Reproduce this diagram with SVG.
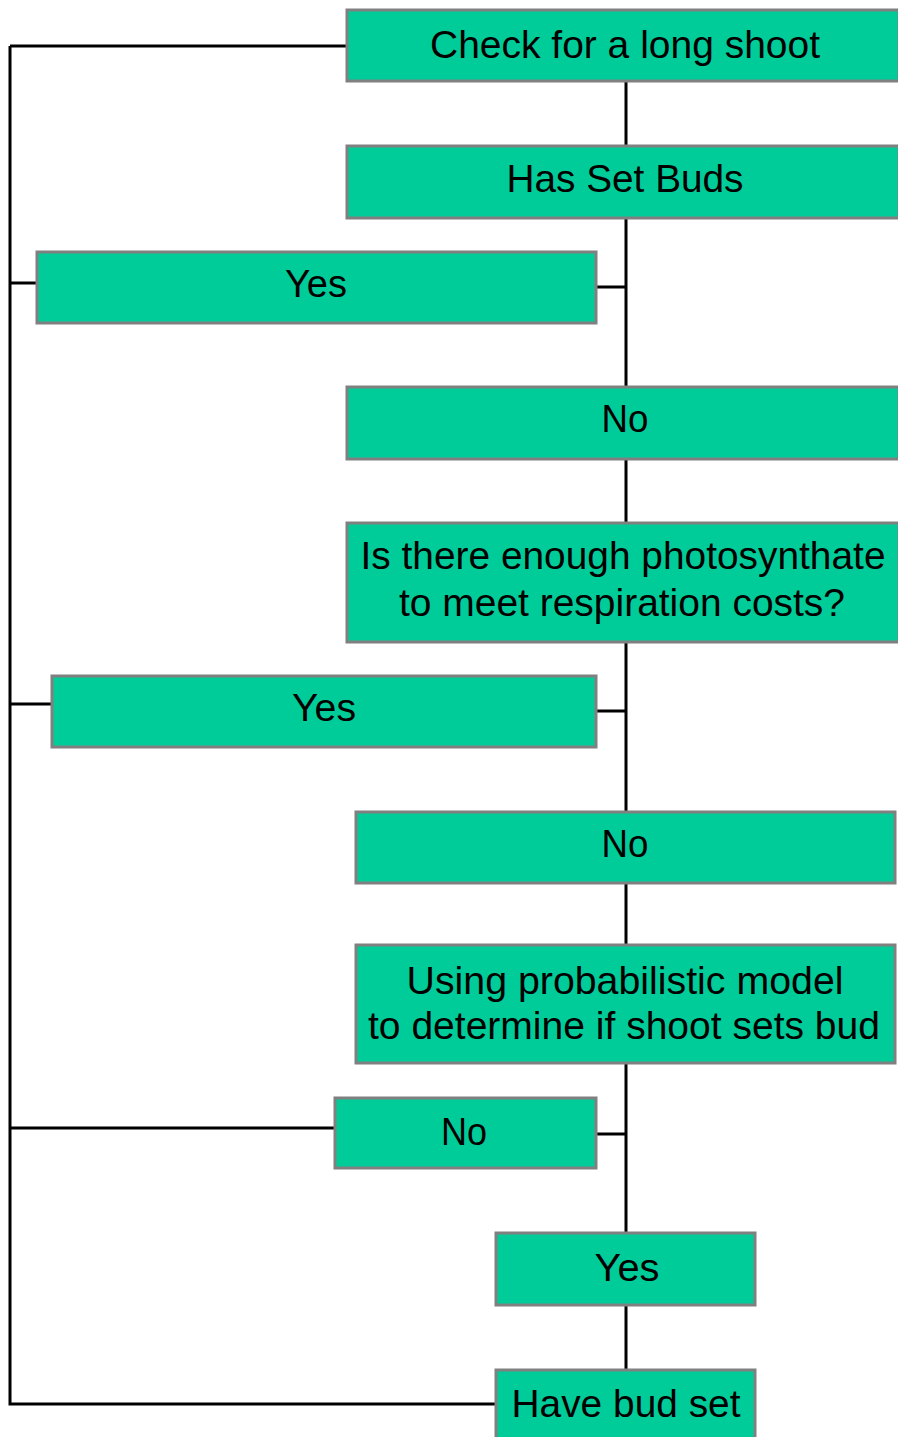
<svg xmlns="http://www.w3.org/2000/svg" width="898" height="1437" viewBox="0 0 898 1437">
<style>
.box{fill:#00CC99;stroke:#808080;stroke-width:3}
.lbl{font-family:"Liberation Sans",Arial,sans-serif;font-size:39px;fill:#000;text-anchor:middle}
.ln{stroke:#000;stroke-width:3;fill:none}
</style>
<rect width="898" height="1437" fill="#fff"/>
<g id="connectors">
<path class="ln" d="M10,46 H347 M10,46 V1404 H496"/>
<path class="ln" d="M626,81 V146 M626,218 V387 M626,459 V523 M626,642 V812 M626,883 V945 M626,1063 V1233 M626,1305 V1370"/>
<path class="ln" d="M596,287 H626 M10,283 H37"/>
<path class="ln" d="M596,711 H626 M10,704 H52"/>
<path class="ln" d="M596,1134 H626 M10,1128 H335"/>
</g>
<g id="n1"><rect class="box" x="347" y="10" width="552" height="71"/><text class="lbl" x="625" y="58" textLength="390" lengthAdjust="spacingAndGlyphs">Check for a long shoot</text></g>
<g id="n2"><rect class="box" x="347" y="146" width="552" height="72"/><text class="lbl" x="625" y="192" textLength="237" lengthAdjust="spacingAndGlyphs">Has Set Buds</text></g>
<g id="n3"><rect class="box" x="37" y="252" width="559" height="71"/><text class="lbl" x="316" y="297" textLength="62" lengthAdjust="spacingAndGlyphs">Yes</text></g>
<g id="n4"><rect class="box" x="347" y="387" width="552" height="72"/><text class="lbl" x="625" y="432" textLength="47" lengthAdjust="spacingAndGlyphs">No</text></g>
<g id="n5"><rect class="box" x="347" y="523" width="552" height="119"/><text class="lbl" x="623" y="569" textLength="525" lengthAdjust="spacingAndGlyphs">Is there enough photosynthate</text><text class="lbl" x="622" y="616" textLength="446" lengthAdjust="spacingAndGlyphs">to meet respiration costs?</text></g>
<g id="n6"><rect class="box" x="52" y="676" width="544" height="71"/><text class="lbl" x="324" y="721" textLength="64" lengthAdjust="spacingAndGlyphs">Yes</text></g>
<g id="n7"><rect class="box" x="356" y="812" width="539" height="71"/><text class="lbl" x="625" y="857" textLength="47" lengthAdjust="spacingAndGlyphs">No</text></g>
<g id="n8"><rect class="box" x="356" y="945" width="539" height="118"/><text class="lbl" x="625" y="994" textLength="437" lengthAdjust="spacingAndGlyphs">Using probabilistic model</text><text class="lbl" x="624" y="1039" textLength="512" lengthAdjust="spacingAndGlyphs">to determine if shoot sets bud</text></g>
<g id="n9"><rect class="box" x="335" y="1098" width="261" height="70"/><text class="lbl" x="464" y="1145" textLength="46" lengthAdjust="spacingAndGlyphs">No</text></g>
<g id="n10"><rect class="box" x="496" y="1233" width="259" height="72"/><text class="lbl" x="627" y="1281" textLength="65" lengthAdjust="spacingAndGlyphs">Yes</text></g>
<g id="n11"><rect class="box" x="496" y="1370" width="259" height="72"/><text class="lbl" x="626" y="1417" textLength="229" lengthAdjust="spacingAndGlyphs">Have bud set</text></g>
</svg>
